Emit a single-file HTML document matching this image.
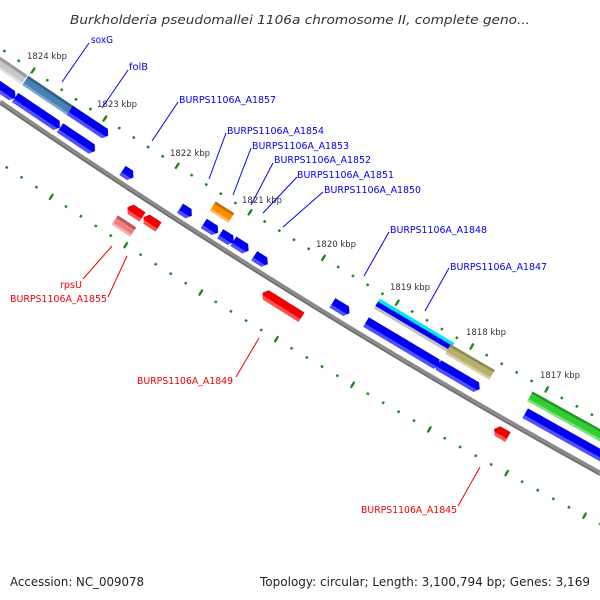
<!DOCTYPE html>
<html><head><meta charset="utf-8"><style>
html,body{margin:0;padding:0;background:#fff;}
svg{display:block;}
.lb{font-family:"DejaVu Sans","Liberation Sans",sans-serif;font-size:10px;fill:#0000ee;}
.lr{font-family:"DejaVu Sans","Liberation Sans",sans-serif;font-size:10px;fill:#ee0000;}
.kb{font-family:"DejaVu Sans","Liberation Sans",sans-serif;font-size:8.5px;fill:#333;}
</style></head><body>
<svg width="600" height="600" viewBox="0 0 600 600" xmlns="http://www.w3.org/2000/svg">
<rect width="600" height="600" fill="#fff"/>
<text x="300" y="24" text-anchor="middle" textLength="460" lengthAdjust="spacingAndGlyphs" style="font-family:'DejaVu Sans','Liberation Sans',sans-serif;font-style:italic;font-size:12.5px;fill:#333">Burkholderia pseudomallei 1106a chromosome II, complete geno...</text>

<!-- scales -->
<path d="M0,48 Q302,254.6 600,419.2" fill="none" stroke="#1a8a1a" stroke-width="2.5" stroke-dasharray="2.5 14.78" stroke-dashoffset="13.19"/>
<path d="M0,48 Q302,254.6 600,419.2" fill="none" stroke="#1a8a1a" stroke-width="7" stroke-dasharray="2.2 84.2" stroke-dashoffset="47.6"/>
<path d="M0,163 Q302,364.5 600,524" fill="none" stroke="#1a8a1a" stroke-width="2.5" stroke-dasharray="2.5 15.26" stroke-dashoffset="10.99"/>
<path d="M0,163 Q302,364.5 600,524" fill="none" stroke="#1a8a1a" stroke-width="7" stroke-dasharray="2.2 86.6" stroke-dashoffset="28.6"/>

<!-- main line -->
<path d="M0,102 Q302,308.6 600,473.2" fill="none" stroke="#8a8a8a" stroke-width="5"/>
<path d="M0,104 Q302,310.6 600,475.2" fill="none" stroke="#666" stroke-width="1.2"/>

<!-- kbp labels -->
<text class="kb" x="27" y="59">1824 kbp</text>
<text class="kb" x="97" y="107">1823 kbp</text>
<text class="kb" x="170" y="156">1822 kbp</text>
<text class="kb" x="242" y="203">1821 kbp</text>
<text class="kb" x="316" y="247">1820 kbp</text>
<text class="kb" x="390" y="290">1819 kbp</text>
<text class="kb" x="466" y="335">1818 kbp</text>
<text class="kb" x="540" y="378">1817 kbp</text>

<!-- Row B -->
<g transform="translate(7,68) rotate(34.3)"><rect x="-21" y="-5.5" width="42" height="11" fill="#c8c8c8"/><rect x="-21" y="-5.5" width="42" height="3" fill="#999"/><rect x="-21" y="3" width="42" height="2.5" fill="#e0e0e0"/></g>
<g transform="translate(48.5,96) rotate(33.9)"><rect x="-28" y="-5.5" width="56" height="11" fill="#4682b4"/><rect x="-28" y="-5.5" width="56" height="2.5" fill="#2f5f87"/><rect x="-28" y="3" width="56" height="2.5" fill="#7aa6cc"/></g>
<g transform="translate(89,123) rotate(33.6)"><polygon points="-23,-5.5 19,-5.5 23,0 19,5.5 -23,5.5" fill="#0000ee"/><polygon points="-23,2 21.5,2 19,5.5 -23,5.5" fill="#5050ff"/></g>
<g transform="translate(222,212) rotate(32.4)"><rect x="-11" y="-5.5" width="22" height="11" fill="#ff8c00"/><rect x="-11" y="-5.5" width="22" height="2.5" fill="#c86a00"/><rect x="-11" y="3" width="22" height="2.5" fill="#ffb860"/></g>
<g transform="translate(414,326) rotate(30.7)"><rect x="-43.5" y="-6" width="87" height="4" fill="#00e5ee"/><rect x="-43.5" y="-2.5" width="87" height="5" fill="#0000ee"/><rect x="-43.5" y="2.5" width="87" height="3" fill="#c0c0c0"/></g>
<g transform="translate(470,362) rotate(30.2)"><rect x="-25.5" y="-5.5" width="51" height="11" fill="#b8b070"/><rect x="-25.5" y="-5.5" width="51" height="2.5" fill="#8f8850"/><rect x="-25.5" y="3" width="51" height="2.5" fill="#d8d09a"/></g>
<g transform="translate(578,423) rotate(29.1)"><rect x="-55" y="-5.5" width="110" height="11" fill="#32cd32"/><rect x="-55" y="-5.5" width="110" height="2.5" fill="#229922"/><rect x="-55" y="3" width="110" height="2.5" fill="#80e080"/></g>

<!-- Row A blue -->
<g fill="#0000ee">
<g transform="translate(-2,86) rotate(34.4)"><polygon points="-21,-5.5 17,-5.5 21,0 17,5.5 -21,5.5"/><polygon points="-21,2 19.5,2 17,5.5 -21,5.5" fill="#5050ff"/></g>
<g transform="translate(37.5,112.5) rotate(34)"><polygon points="-27,-5.5 23,-5.5 27,0 23,5.5 -27,5.5"/><polygon points="-27,2 25.5,2 23,5.5 -27,5.5" fill="#5050ff"/></g>
<g transform="translate(77.5,139.5) rotate(33.7)"><polygon points="-21,-5.5 17,-5.5 21,0 17,5.5 -21,5.5"/><polygon points="-21,2 19.5,2 17,5.5 -21,5.5" fill="#5050ff"/></g>
<g transform="translate(128,174) rotate(33.2)"><polygon points="-6.5,-5.5 2.5,-5.5 6.5,0 2.5,5.5 -6.5,5.5"/><polygon points="-6.5,2 5,2 2.5,5.5 -6.5,5.5" fill="#5050ff"/></g>
<g transform="translate(186,212) rotate(32.7)"><polygon points="-7,-5.5 3,-5.5 7,0 3,5.5 -7,5.5"/><polygon points="-7,2 5.5,2 3,5.5 -7,5.5" fill="#5050ff"/></g>
<g transform="translate(211,228) rotate(32.5)"><polygon points="-8.5,-5.5 4.5,-5.5 8.5,0 4.5,5.5 -8.5,5.5"/><polygon points="-8.5,2 7,2 4.5,5.5 -8.5,5.5" fill="#5050ff"/></g>
<g transform="translate(227,238) rotate(32.4)"><polygon points="-8,-5.5 4,-5.5 8,0 4,5.5 -8,5.5"/><polygon points="-8,2 6.5,2 4,5.5 -8,5.5" fill="#5050ff"/></g>
<g transform="translate(241,246) rotate(32.3)"><polygon points="-9,-5.5 5,-5.5 9,0 5,5.5 -9,5.5"/><polygon points="-9,2 7.5,2 5,5.5 -9,5.5" fill="#5050ff"/></g>
<g transform="translate(261,260) rotate(32.1)"><polygon points="-8,-5.5 4,-5.5 8,0 4,5.5 -8,5.5"/><polygon points="-8,2 6.5,2 4,5.5 -8,5.5" fill="#5050ff"/></g>
<g transform="translate(341,308) rotate(31.4)"><polygon points="-10,-5.5 6,-5.5 10,0 6,5.5 -10,5.5"/><polygon points="-10,2 8.5,2 6,5.5 -10,5.5" fill="#5050ff"/></g>
<g transform="translate(403,344) rotate(30.8)"><polygon points="-43,-5.5 39,-5.5 43,0 39,5.5 -43,5.5"/><polygon points="-43,2 41.5,2 39,5.5 -43,5.5" fill="#5050ff"/></g>
<g transform="translate(459,377) rotate(30.3)"><polygon points="-24,-5.5 20,-5.5 24,0 20,5.5 -24,5.5"/><polygon points="-24,2 22.5,2 20,5.5 -24,5.5" fill="#5050ff"/></g>
<g transform="translate(575,441) rotate(29.2)"><rect x="-57" y="-5.5" width="114" height="11"/><rect x="-57" y="2" width="114" height="3.5" fill="#5050ff"/></g>
</g>

<!-- red below -->
<g fill="#ee0000">
<g transform="translate(282,305) rotate(32)"><polygon points="-23,0 -19,-5.5 23,-5.5 23,5.5 -19,5.5"/><polygon points="-21.5,2 23,2 23,5.5 -19,5.5" fill="#ff5050"/></g>
<g transform="translate(501,433) rotate(29.9)"><polygon points="-8,0 -4,-5.5 8,-5.5 8,5.5 -4,5.5"/><polygon points="-6.5,2 8,2 8,5.5 -4,5.5" fill="#ff5050"/></g>
<g transform="translate(135,212) rotate(33.2)"><polygon points="-9,0 -5,-5.5 9,-5.5 9,5.5 -5,5.5"/><polygon points="-7.5,2 9,2 9,5.5 -5,5.5" fill="#ff5050"/></g>
<g transform="translate(151,222) rotate(33.2)"><polygon points="-9,0 -5,-5.5 9,-5.5 9,5.5 -5,5.5"/><polygon points="-7.5,2 9,2 9,5.5 -5,5.5" fill="#ff5050"/></g>
<g transform="translate(124,226) rotate(33.3)"><rect x="-11" y="-5.5" width="22" height="11" fill="#f08080"/><rect x="-11" y="-5.5" width="22" height="3" fill="#b85a5a"/><rect x="-11" y="3" width="22" height="2.5" fill="#f8b0b0"/></g>
</g>

<!-- leader lines -->
<g stroke="#0000ee" stroke-width="1">
<line x1="89" y1="43" x2="62" y2="82"/>
<line x1="128" y1="70" x2="102" y2="108"/>
<line x1="178" y1="102" x2="152" y2="141"/>
<line x1="226" y1="133" x2="209" y2="179"/>
<line x1="251" y1="148" x2="233" y2="195"/>
<line x1="273" y1="163" x2="251" y2="205"/>
<line x1="297" y1="177" x2="263" y2="213"/>
<line x1="323" y1="192" x2="283" y2="227"/>
<line x1="389" y1="232" x2="364" y2="276"/>
<line x1="449" y1="268" x2="425" y2="311"/>
</g>
<g stroke="#ee0000" stroke-width="1">
<line x1="83" y1="279" x2="112" y2="246"/>
<line x1="108" y1="297" x2="127" y2="256"/>
<line x1="236" y1="377" x2="259" y2="338"/>
<line x1="458" y1="506" x2="480" y2="467"/>
</g>

<!-- labels -->
<text class="lb" x="91" y="43" textLength="22" lengthAdjust="spacingAndGlyphs">soxG</text>
<text class="lb" x="129" y="70" textLength="19" lengthAdjust="spacingAndGlyphs">folB</text>
<text class="lb" x="179" y="103" textLength="97" lengthAdjust="spacingAndGlyphs">BURPS1106A_A1857</text>
<text class="lb" x="227" y="134" textLength="97" lengthAdjust="spacingAndGlyphs">BURPS1106A_A1854</text>
<text class="lb" x="252" y="149" textLength="97" lengthAdjust="spacingAndGlyphs">BURPS1106A_A1853</text>
<text class="lb" x="274" y="163" textLength="97" lengthAdjust="spacingAndGlyphs">BURPS1106A_A1852</text>
<text class="lb" x="297" y="178" textLength="97" lengthAdjust="spacingAndGlyphs">BURPS1106A_A1851</text>
<text class="lb" x="324" y="193" textLength="97" lengthAdjust="spacingAndGlyphs">BURPS1106A_A1850</text>
<text class="lb" x="390" y="233" textLength="97" lengthAdjust="spacingAndGlyphs">BURPS1106A_A1848</text>
<text class="lb" x="450" y="270" textLength="97" lengthAdjust="spacingAndGlyphs">BURPS1106A_A1847</text>
<text class="lr" x="60" y="288" textLength="22" lengthAdjust="spacingAndGlyphs">rpsU</text>
<text class="lr" x="10" y="302" textLength="97" lengthAdjust="spacingAndGlyphs">BURPS1106A_A1855</text>
<text class="lr" x="137" y="384" textLength="96" lengthAdjust="spacingAndGlyphs">BURPS1106A_A1849</text>
<text class="lr" x="361" y="513" textLength="96" lengthAdjust="spacingAndGlyphs">BURPS1106A_A1845</text>

<!-- footer -->
<text x="10" y="586" textLength="134" lengthAdjust="spacingAndGlyphs" style="font-family:'DejaVu Sans','Liberation Sans',sans-serif;font-size:12px;fill:#222">Accession: NC_009078</text>
<text x="260" y="586" textLength="330" lengthAdjust="spacingAndGlyphs" style="font-family:'DejaVu Sans','Liberation Sans',sans-serif;font-size:12px;fill:#222">Topology: circular; Length: 3,100,794 bp; Genes: 3,169</text>
</svg>
</body></html>
